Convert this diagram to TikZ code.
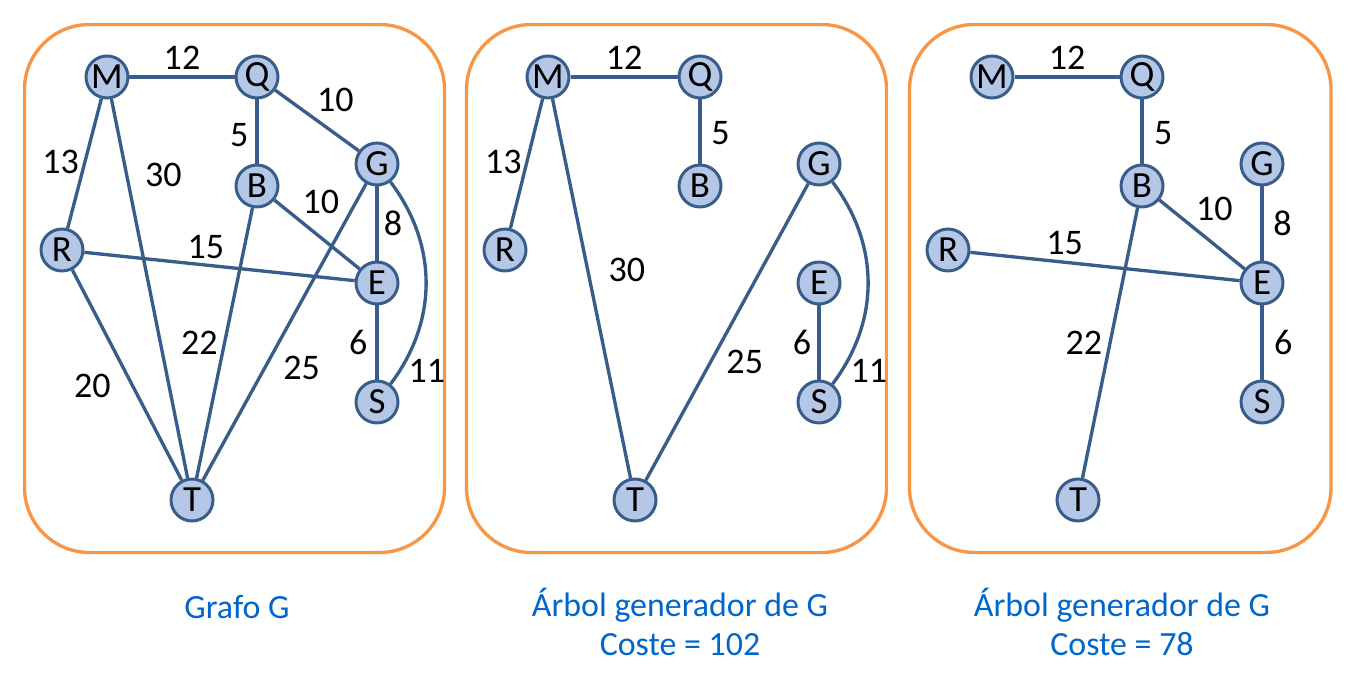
\documentclass[tikz,border=0pt]{standalone}
\usepackage{fontspec}
\setmainfont{Carlito}
\usetikzlibrary{positioning}
\definecolor{boxorange}{HTML}{F79646}
\definecolor{vfill}{HTML}{B4C7E7}
\definecolor{vline}{HTML}{385D8A}
\definecolor{captblue}{HTML}{0066CC}

\begin{document}
\begin{tikzpicture}[
    x=0.02cm, y=-0.02cm,
    panel/.style={draw=boxorange, line width=1.9pt, rounded corners=1.3cm},
    vertex/.style={circle, draw=vline, fill=vfill, line width=1.7pt, minimum size=0.84cm, inner sep=0pt, font=\fontsize{21}{22}\selectfont},
    link/.style={draw=vline, line width=1.9pt},
    wlabel/.style={inner sep=2pt, font=\fontsize{20.5}{22}\selectfont},
    caption/.style={text=captblue, align=center, font=\fontsize{19.3}{22.7}\selectfont},
]
\useasboundingbox (0,0) rectangle (1364,678);

% Grafo G
\draw[panel] (24.5,24.5) rectangle (444.5,552.5);
\node[vertex] (m1) at (107,77) {M};
\node[vertex] (q1) at (257,77) {Q};
\node[vertex] (g1) at (377,164) {G};
\node[vertex] (b1) at (257,186) {B};
\node[vertex] (r1) at (62,250) {R};
\node[vertex] (e1) at (377,283) {E};
\node[vertex] (s1) at (377,402) {S};
\node[vertex] (t1) at (192,500) {T};
\draw[link] (m1) -- node[wlabel, midway, above=1.5pt] {12} (q1);
\draw[link] (q1) -- node[wlabel, pos=0.44, anchor=south west] {10} (g1);
\draw[link] (m1) -- node[wlabel, pos=0.49, left=0.5pt] {13} (r1);
\draw[link] (m1) -- node[wlabel, pos=0.2, right=7.5pt] {30} (t1);
\draw[link] (q1) -- node[wlabel, pos=0.55, left=2pt] {5} (b1);
\draw[link] (b1) -- node[wlabel, pos=0.27, anchor=south west] {10} (e1);
\draw[link] (g1) -- node[wlabel, midway, right=1pt] {8} (e1);
\draw[link] (r1) -- node[wlabel, pos=0.45, above=0.5pt] {15} (e1);
\draw[link] (r1) -- node[wlabel, pos=0.55, left=9.5pt] {20} (t1);
\draw[link] (b1) -- node[wlabel, pos=0.5, left=1pt] {22} (t1);
\draw[link] (g1) -- node[wlabel, pos=0.62, right=7.5pt] {25} (t1);
\draw[link] (e1) -- node[wlabel, midway, left=2.5pt] {6} (s1);
\draw[link] (g1) to[bend left=37] node[wlabel, pos=0.93, right=2pt] {11} (s1);
\node[caption] (cap1) at (237,607) {Grafo G};

% primer arbol
\draw[panel] (466.5,24.5) rectangle (886.5,552.5);
\node[vertex] (m2) at (548,77) {M};
\node[vertex] (q2) at (700,77) {Q};
\node[vertex] (g2) at (819,164) {G};
\node[vertex] (b2) at (700,186) {B};
\node[vertex] (r2) at (505,250) {R};
\node[vertex] (e2) at (819,283) {E};
\node[vertex] (s2) at (819,402) {S};
\node[vertex] (t2) at (635,500) {T};
\draw[link] (m2) -- node[wlabel, midway, above=1.5pt] {12} (q2);
\draw[link] (q2) -- node[wlabel, pos=0.53, right=3.5pt] {5} (b2);
\draw[link] (m2) -- node[wlabel, pos=0.49, left=0pt] {13} (r2);
\draw[link] (m2) -- node[wlabel, pos=0.45, right=9pt] {30} (t2);
\draw[link] (g2) -- node[wlabel, pos=0.6, right=6pt] {25} (t2);
\draw[link] (e2) -- node[wlabel, midway, left=1.5pt] {6} (s2);
\draw[link] (g2) to[bend left=37] node[wlabel, pos=0.93, right=2pt] {11} (s2);
\node[caption] (cap2) at (680,622) {Árbol generador de G\\Coste = 102};

% segundo arbol
\draw[panel] (909.5,24.5) rectangle (1331,552.5);
\node[vertex] (m3) at (992,77) {M};
\node[vertex] (q3) at (1142,77) {Q};
\node[vertex] (g3) at (1262,164) {G};
\node[vertex] (b3) at (1142,186) {B};
\node[vertex] (r3) at (948,250) {R};
\node[vertex] (e3) at (1262,283) {E};
\node[vertex] (s3) at (1262,402) {S};
\node[vertex] (t3) at (1078,500) {T};
\draw[link] (m3) -- node[wlabel, midway, above=1.5pt] {12} (q3);
\draw[link] (q3) -- node[wlabel, pos=0.53, right=4pt] {5} (b3);
\draw[link] (b3) -- node[wlabel, pos=0.37, anchor=south west] {10} (e3);
\draw[link] (g3) -- node[wlabel, midway, right=3.5pt] {8} (e3);
\draw[link] (r3) -- node[wlabel, pos=0.35, above=1.5pt] {15} (e3);
\draw[link] (b3) -- node[wlabel, pos=0.5, left=1.5pt] {22} (t3);
\draw[link] (e3) -- node[wlabel, midway, right=4pt] {6} (s3);
\node[caption] (cap3) at (1122,622) {Árbol generador de G\\Coste = 78};

\end{tikzpicture}
\end{document}
